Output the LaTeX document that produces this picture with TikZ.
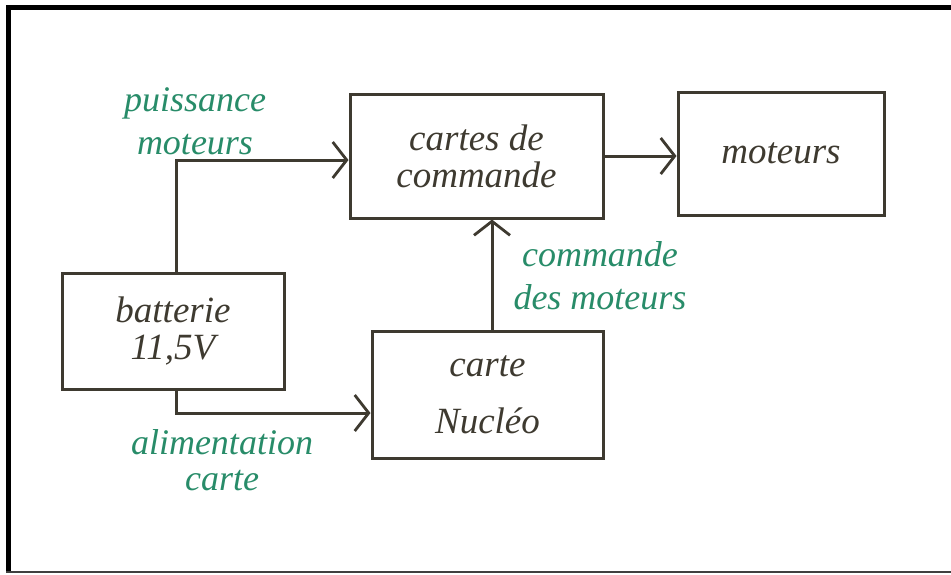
\documentclass[tikz,border=0pt]{standalone}
\usepackage{fontspec}
\setmainfont{Liberation Serif}
\usetikzlibrary{arrows.meta}
\definecolor{ink}{RGB}{62,58,48}
\definecolor{grn}{RGB}{40,140,105}
\tikzset{
  blk/.style={draw=ink, line width=3pt, minimum width=#1, inner sep=0pt, align=center, font=\fontsize{37}{37}\selectfont\itshape, text=ink},
  lbl/.style={text=grn, align=center, font=\fontsize{36}{43}\selectfont\itshape},
  conn/.style={draw=ink, line width=3pt, -{Straight Barb[length=14pt,width=36pt,line width=2.8pt]}}
}
\begin{document}
\begin{tikzpicture}[x=1pt,y=-1pt]
\useasboundingbox (0,0) rectangle (951,574);
\fill[white] (0,0) rectangle (951,574);
\fill[black] (6,5) rectangle (951,10);
\fill[black] (6,5) rectangle (11,573);
\fill[black!75] (6,571) rectangle (951,573);

\node[blk=253pt, minimum height=124pt] (cc) at (476.5,156) {cartes de\\commande};
\node[blk=206pt, minimum height=123pt] (mo) at (781,153.5) {moteurs};
\node[blk=222pt, minimum height=116pt] (ba) at (173,331) {batterie\\11,5V};
\node[blk=231pt, minimum height=127pt] (nu) at (487.5,394.5) {carte\\[20pt]Nucléo};

\coordinate (c1) at (176,160);
\coordinate (c2) at (176,413);
\draw[conn] (ba.north -| c1) -- (c1) -- (c1 -| cc.west);
\draw[conn] (ba.south -| c2) -- (c2) -- (c2 -| nu.west);
\draw[conn] (nu.north -| 492,0) -- (cc.south -| 492,0);
\draw[conn] (cc.east |- 0,156) -- (mo.west |- 0,156);

\node[lbl] (l1) at (195,121) {puissance\\moteurs};
\node[lbl] (l2) at (600,276) {commande\\des moteurs};
\node[lbl, font=\fontsize{36}{36}\selectfont\itshape] (l3) at (222,460) {alimentation\\carte};
\end{tikzpicture}
\end{document}
